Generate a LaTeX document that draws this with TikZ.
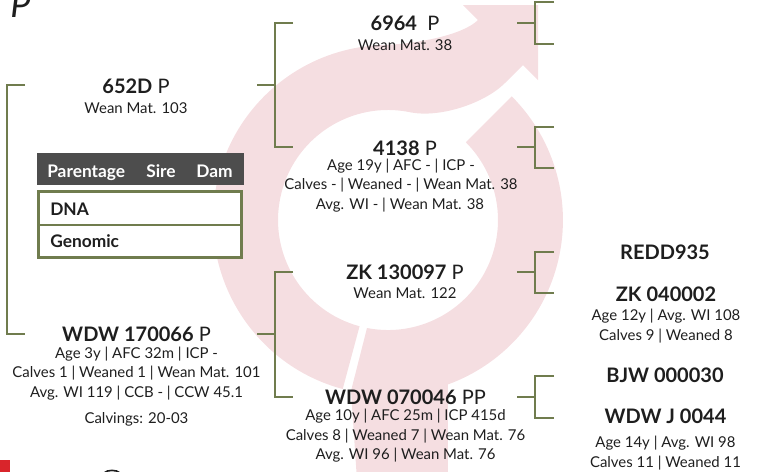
\documentclass[tikz,border=0pt]{standalone}
\usepackage{fontspec}
\setmainfont{Lato}
\definecolor{ink}{RGB}{30,30,30}
\definecolor{olive}{RGB}{112,124,78}
\definecolor{logopink}{RGB}{245,222,225}
\definecolor{headbg}{RGB}{77,77,77}
\definecolor{markred}{RGB}{217,37,43}
\begin{document}
\begin{tikzpicture}[x=0.75pt,y=-0.75pt,
  title/.style={font=\fontsize{15}{18}\selectfont, text=ink, anchor=base, inner sep=0pt},
  info/.style={font=\fontsize{11.2}{13}\selectfont, text=ink, anchor=base, inner sep=0pt},
  rtitle/.style={font=\fontsize{15}{18}\selectfont\bfseries, text=ink, anchor=base, inner sep=0pt},
  cell/.style={font=\fontsize{13}{15}\selectfont\bfseries, anchor=base west, inner sep=0pt},
  bracket/.style={draw=olive, line width=1.1pt},
]
\useasboundingbox (0,0) rectangle (769,472);

% background logo
\fill[logopink] (342.7,389) arc[start angle=105,end angle=268,radius=175]
  .. controls (417,44) and (463,35) .. (478,20) -- (463,5) -- (538,5) -- (538,80) -- (523,65) -- (505,83)
  .. controls (485,103) and (441,118) .. (410.9,112.4)
  arc[start angle=282,end angle=105,radius=110] -- cycle;
\fill[logopink] (511.7,96.3) arc[start angle=-45,end angle=70,radius=175]
  -- (448,480) -- (357,480) -- (351,391) -- (367,328)
  arc[start angle=101,end angle=-45,radius=110] -- cycle;

% corner marks
\node[font=\fontsize{27}{27}\selectfont\itshape, text=ink, anchor=base west, inner sep=0pt] (ptop) at (10,17.5) {P};
\fill[markred] (0,460) rectangle (10,472);
\draw[ink, line width=1.2pt] (104,473) .. controls (107,469.5) and (117,469.5) .. (120,473);

% parentage table
\fill[headbg] (37,153) rectangle (244,185);
\node[cell, text=white] (hpar) at (47,177) {Parentage};
\node[cell, text=white] (hsire) at (146,177) {Sire};
\node[cell, text=white] (hdam) at (196,177) {Dam};
\filldraw[fill=white, draw=olive, line width=2.2pt] (38.5,191.5) rectangle (241.5,257.5);
\draw[olive, line width=1.1pt] (38.5,225) -- (241.5,225);
\node[cell, text=ink] (dna) at (50,215) {DNA};
\node[cell, text=ink] (geno) at (50,247) {Genomic};

% generation 1
\node[title] (n652) at (136,93) {\textbf{652D} P};
\node[info] (n652a) at (136,113) {Wean Mat. 103};
\node[title] (n170) at (136.5,341) {\textbf{WDW 170066} P};
\node[info] (n170a) at (136.5,358) {Age 3y | AFC 32m | ICP -};
\node[info] (n170b) at (136.5,377.5) {Calves 1 | Weaned 1 | Wean Mat. 101};
\node[info] (n170c) at (136.5,397) {Avg. WI 119 | CCB - | CCW 45.1};
\node[info] (n170d) at (136.5,423) {Calvings: 20-03};

% generation 2
\node[title] (n6964) at (405,30) {\textbf{6964}\ \ P};
\node[info] (n6964a) at (405,50) {Wean Mat. 38};
\node[title] (n4138) at (405,155) {\textbf{4138} P};
\node[info] (n4138a) at (401,170) {Age 19y | AFC - | ICP -};
\node[info] (n4138b) at (401,189.5) {Calves - | Weaned - | Wean Mat. 38};
\node[info] (n4138c) at (400,209) {Avg. WI - | Wean Mat. 38};
\node[title] (nzk13) at (405,279) {\textbf{ZK 130097} P};
\node[info] (nzk13a) at (405,298) {Wean Mat. 122};
\node[title] (n070) at (405.5,404) {\textbf{WDW 070046} PP};
\node[info] (n070a) at (405.5,420.5) {Age 10y | AFC 25m | ICP 415d};
\node[info] (n070b) at (405.5,440) {Calves 8 | Weaned 7 | Wean Mat. 76};
\node[info] (n070c) at (405.5,459) {Avg. WI 96 | Wean Mat. 76};

% generation 3
\node[rtitle] (nredd) at (665,259) {REDD935};
\node[rtitle] (nzk04) at (666,301) {ZK 040002};
\node[info] (nzk04a) at (666,320.5) {Age 12y | Avg. WI 108};
\node[info] (nzk04b) at (666,340) {Calves 9 | Weaned 8};
\node[rtitle] (nbjw) at (665,382) {BJW 000030};
\node[rtitle] (nwdwj) at (665.5,423) {WDW J 0044};
\node[info] (nwdwja) at (665.5,447) {Age 14y | Avg. WI 98};
\node[info] (nwdwjb) at (665.5,467) {Calves 11 | Weaned 11};

% bracket coordinates
\coordinate (r0t) at (25,85);  \coordinate (r0b) at (25,334);
\coordinate (a1) at (257,85);  \coordinate (a1t) at (293,23);  \coordinate (a1b) at (293,147);
\coordinate (a2) at (257,334); \coordinate (a2t) at (293,272); \coordinate (a2b) at (293,397);
\coordinate (c1) at (517,23);  \coordinate (c1t) at (554,2);   \coordinate (c1b) at (554,44);
\coordinate (c2) at (517,147); \coordinate (c2t) at (554,127); \coordinate (c2b) at (554,168);
\coordinate (c3) at (517,272); \coordinate (c3t) at (554,252); \coordinate (c3b) at (554,293);
\coordinate (c4) at (517,397); \coordinate (c4t) at (554,376); \coordinate (c4b) at (554,418);

\draw[bracket] (r0t) -- (7,85) -- (7,334) -- (r0b);
\foreach \m/\t/\b in {a1/a1t/a1b, a2/a2t/a2b}{
  \draw[bracket] (\m) -- ([xshift=13.5pt]\m);
  \draw[bracket] (\t) -| ([xshift=13.5pt]\m |- \b) -- (\b);
}
\foreach \m/\t/\b in {c1/c1t/c1b, c2/c2t/c2b, c3/c3t/c3b, c4/c4t/c4b}{
  \draw[bracket] (\m) -- ([xshift=13.5pt]\m);
  \draw[bracket] (\t) -| ([xshift=13.5pt]\m |- \b) -- (\b);
}
\end{tikzpicture}
\end{document}
